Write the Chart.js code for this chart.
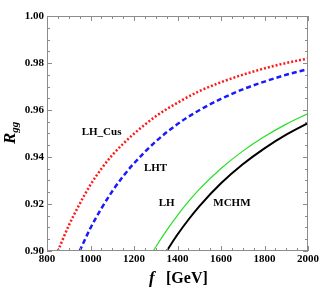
<!DOCTYPE html>
<html>
<head>
<meta charset="utf-8">
<script src="https://cdn.jsdelivr.net/npm/chart.js@4.4.1/dist/chart.umd.min.js"></script>
<style>
  html, body { margin: 0; padding: 0; background: #fff; }
  #wrap { width: 324px; height: 288px; }
</style>
</head>
<body>
<div id="wrap"><canvas id="rggChart" width="324" height="288"></canvas></div>
<script>
// values
const fLHCus = [850, 900, 950, 1000, 1050, 1100, 1150, 1200, 1300, 1400, 1500, 1600, 1700, 1800, 1900, 2000];
const rLHCus = [0.9000, 0.9108, 0.9200, 0.9282, 0.9350, 0.9408, 0.9456, 0.9499, 0.9573, 0.9631, 0.9680, 0.9718, 0.9750, 0.9777, 0.9800, 0.9819];

const fLHT = [950, 1000, 1050, 1100, 1150, 1200, 1300, 1400, 1500, 1600, 1700, 1800, 1900, 2000];
const rLHT = [0.9000, 0.9098, 0.9181, 0.9254, 0.9318, 0.9373, 0.9466, 0.9540, 0.9599, 0.9647, 0.9688, 0.9721, 0.9750, 0.9774];

const fLH = [1289, 1300, 1350, 1400, 1450, 1500, 1600, 1700, 1800, 1900, 2000];
const rLH = [0.9000, 0.9017, 0.9088, 0.9152, 0.9210, 0.9262, 0.9351, 0.9425, 0.9487, 0.9540, 0.9585];

const fMCHM = [1350, 1400, 1450, 1500, 1600, 1700, 1800, 1900, 2000];
const rMCHM = [0.9000, 0.9070, 0.9133, 0.9190, 0.9288, 0.9369, 0.9437, 0.9495, 0.9544];

const xTicks = [800, 1000, 1200, 1400, 1600, 1800, 2000];
const yTicks = [0.90, 0.92, 0.94, 0.96, 0.98, 1.00];

const curveLabels = ['LH_Cus', 'LHT', 'LH', 'MCHM'];

// where the curve names sit, in data units
const labelSpots = [
    { x: 1051, y: 0.9506 },
    { x: 1299, y: 0.9353 },
    { x: 1350, y: 0.9204 },
    { x: 1650, y: 0.9204 }
];

const toPoints = (xs, ys) => xs.map((x, i) => ({ x: x, y: ys[i] }));

const serif = "'Liberation Serif', 'DejaVu Serif', serif";

const framePlugin = {
    id: 'frame',
    afterDatasetsDraw(chart) {
        const ctx = chart.ctx;
        const a = chart.chartArea;
        const xs = chart.scales.x;
        const ys = chart.scales.y;
        ctx.save();
        ctx.strokeStyle = '#8c8c8c';
        ctx.lineWidth = 1;
        ctx.strokeRect(a.left + 0.5, a.top + 0.5, a.right - a.left - 1, a.bottom - a.top - 1);

        ctx.beginPath();
        for (let v = 800; v <= 2000; v += 50) {
            const px = Math.round(xs.getPixelForValue(v)) + 0.5;
            const len = (v % 200 === 0) ? 5 : 3;
            ctx.moveTo(px, a.bottom);
            ctx.lineTo(px, a.bottom - len);
            ctx.moveTo(px, a.top);
            ctx.lineTo(px, a.top + len);
        }
        for (let k = 0; k <= 20; k++) {
            const v = 0.9 + k * 0.005;
            const py = Math.round(ys.getPixelForValue(v)) + 0.5;
            const len = (k % 4 === 0) ? 5 : 3;
            ctx.moveTo(a.left, py);
            ctx.lineTo(a.left + len, py);
            ctx.moveTo(a.right, py);
            ctx.lineTo(a.right - len, py);
        }
        ctx.stroke();

        // curve names
        ctx.fillStyle = '#000';
        ctx.font = 'bold 11px ' + serif;
        ctx.textAlign = 'center';
        ctx.textBaseline = 'middle';
        curveLabels.forEach((name, i) => {
            ctx.fillText(name, xs.getPixelForValue(labelSpots[i].x), ys.getPixelForValue(labelSpots[i].y));
        });

        // x axis title
        ctx.textAlign = 'left';
        ctx.textBaseline = 'alphabetic';
        ctx.font = 'italic bold 17px ' + serif;
        ctx.fillText('f', 149, 283);
        ctx.font = 'bold 16px ' + serif;
        ctx.fillText('[GeV]', 166, 283);

        // y axis title
        ctx.translate(15, 144);
        ctx.rotate(-Math.PI / 2);
        ctx.font = 'italic bold 17px ' + serif;
        ctx.fillText('R', 0, 0);
        const w = ctx.measureText('R').width;
        ctx.font = 'italic bold 11px ' + serif;
        ctx.fillText('gg', w, 3);
        ctx.restore();
    }
};

const chart = new Chart(
    document.getElementById('rggChart'),
    {
        type: 'line',
        data: {
            datasets: [
                {
                    label: 'LH_Cus',
                    data: toPoints(fLHCus, rLHCus),
                    borderColor: '#ff1a1a',
                    borderWidth: 2.5,
                    borderDash: [2, 2]
                },
                {
                    label: 'LHT',
                    data: toPoints(fLHT, rLHT),
                    borderColor: '#1a1aff',
                    borderWidth: 2.5,
                    borderDash: [5, 3]
                },
                {
                    label: 'LH',
                    data: toPoints(fLH, rLH),
                    borderColor: '#22e022',
                    borderWidth: 1.2
                },
                {
                    label: 'MCHM',
                    data: toPoints(fMCHM, rMCHM),
                    borderColor: '#000000',
                    borderWidth: 2
                }
            ]
        },
        options: {
            responsive: false,
            animation: false,
            events: [],
            cubicInterpolationMode: 'monotone',
            pointRadius: 0,
            layout: {
                padding: { top: 16, right: 16, left: 0, bottom: 0 }
            },
            plugins: {
                legend: { display: false },
                tooltip: { enabled: false }
            },
            scales: {
                x: {
                    type: 'linear',
                    min: 800,
                    max: 2000,
                    afterFit: (scale) => { scale.height = 37; },
                    afterBuildTicks: (scale) => { scale.ticks = xTicks.map((v) => ({ value: v })); },
                    grid: { display: false, drawTicks: false },
                    border: { display: false },
                    ticks: {
                        padding: 2,
                        maxRotation: 0,
                        color: '#000',
                        font: { family: serif, size: 11, weight: 'bold' },
                        callback: (v) => String(v)
                    }
                },
                y: {
                    min: 0.9,
                    max: 1.0,
                    afterFit: (scale) => { scale.width = 47; },
                    afterBuildTicks: (scale) => { scale.ticks = yTicks.map((v) => ({ value: v })); },
                    grid: { display: false, drawTicks: false },
                    border: { display: false },
                    ticks: {
                        padding: 3,
                        color: '#000',
                        font: { family: serif, size: 11, weight: 'bold' },
                        callback: (v) => Number(v).toFixed(2)
                    }
                }
            }
        },
        plugins: [framePlugin]
    }
);
</script>
</body>
</html>
